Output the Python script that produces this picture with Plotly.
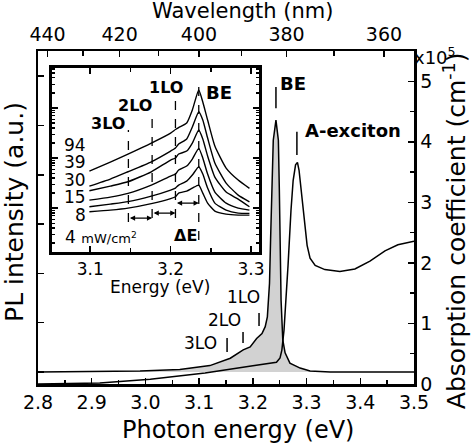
import numpy as np
import plotly.graph_objects as go

# ---------------- data ----------------
# main PL spectrum (left axis, a.u.)
pl_energy = [2.80, 2.953, 2.99, 3.064, 3.12, 3.158, 3.182, 3.195, 3.207, 3.217, 3.223, 3.227,
             3.231, 3.233, 3.235, 3.238, 3.243, 3.2475, 3.2493, 3.2506, 3.2525, 3.2557, 3.26,
             3.269, 3.288, 3.3065, 3.344, 3.50]
pl_intensity = [0.0, 0.01, 0.02, 0.05, 0.13, 0.28, 0.45, 0.51, 0.68, 0.78, 0.92, 1.12,
                1.80, 2.68, 3.69, 4.70, 5.11, 4.70, 3.69, 2.68, 1.46, 0.65, 0.39,
                0.18, 0.08, 0.02, 0.0, 0.0]

# absorption coefficient (right axis, x10^5 cm^-1)
abs_energy = [2.80, 2.915, 3.009, 3.111, 3.20, 3.244, 3.2506, 3.254, 3.258, 3.262, 3.2655,
              3.271, 3.275, 3.2795, 3.283, 3.286, 3.2898, 3.2953, 3.301, 3.3065, 3.316,
              3.334, 3.362, 3.39, 3.418, 3.446, 3.47, 3.50]
abs_coef = [0.0, 0.016, 0.08, 0.18, 0.30, 0.36, 0.43, 0.56, 0.89, 1.38, 1.96,
            2.87, 3.36, 3.62, 3.66, 3.53, 3.20, 2.70, 2.29, 2.08, 1.96,
            1.89, 1.86, 1.90, 2.03, 2.20, 2.30, 2.36]

# inset: PL spectra at various excitation densities (a.u.)
inset_energy = [3.099, 3.125, 3.147, 3.176, 3.200, 3.206, 3.210, 3.220, 3.227, 3.235,
                3.240, 3.246, 3.255, 3.269, 3.284, 3.298]
inset_p94 = [80, 89, 97, 108, 118, 121.5, 123.5, 128, 141, 161, 149, 131, 105, 83, 71, 62.7]
inset_p39 = [65, 72, 79.3, 89.3, 100, 103, 107, 112, 124, 139.3, 131, 113, 88, 68, 56, 49.3]
inset_p30 = [60.3, 65, 69.3, 79.3, 91, 93, 97, 100, 108, 121, 112, 95, 74, 59, 52, 44.3]
inset_p15 = [51, 54, 57.7, 66, 75, 77, 81, 85, 92, 102.7, 93, 77, 59, 48, 43, 41]
inset_p8 = [44.3, 47, 49.5, 55, 61, 63, 66, 70, 76, 84.3, 77, 63, 48, 41, 38, 37.7]
inset_p4 = [39.3, 41, 43, 47.5, 52.5, 54.3, 58, 60, 63, 66, 58, 48, 40, 37, 36, 36]
power_labels = ["94", "39", "30", "15", "8"]

# peak / phonon-replica positions (eV)
main_marks = {"BE": 3.243, "A-exciton": 3.282, "1LO": 3.2115, "2LO": 3.1817, "3LO": 3.152}
inset_lines = {"BE": 3.235, "1LO": 3.206, "2LO": 3.177, "3LO": 3.1475}

# wavelength axis
wl_major = [440, 420, 400, 380, 360]
wl_minor = [430, 410, 390, 370]

FONT = "DejaVu Sans"
BLK = "black"

fig = go.Figure()

# PL main (filled)
fig.add_trace(go.Scatter(x=pl_energy, y=pl_intensity, mode="lines", fill="tozeroy",
                         fillcolor="#d2d2d2", line=dict(color=BLK, width=1.5),
                         xaxis="x", yaxis="y", showlegend=False))
# absorption
fig.add_trace(go.Scatter(x=abs_energy, y=abs_coef, mode="lines",
                         line=dict(color=BLK, width=1.5),
                         xaxis="x", yaxis="y2", showlegend=False))
# dummy for top axis
fig.add_trace(go.Scatter(x=[2.8], y=[0], mode="markers", marker=dict(opacity=0),
                         xaxis="x2", yaxis="y", showlegend=False, hoverinfo="skip"))

# inset curves
for ys in [inset_p94, inset_p39, inset_p30, inset_p15, inset_p8, inset_p4]:
    fig.add_trace(go.Scatter(x=inset_energy, y=ys, mode="lines",
                             line=dict(color=BLK, width=1.4, shape="spline", smoothing=0.5),
                             xaxis="x3", yaxis="y3", showlegend=False))

# log-like tick positions for inset y axis (unlabelled)
dec_base = [-7, 43, 93, 143]
dec_px = 50
inset_major = [b for b in dec_base] + [193]
inset_minor = [b + dec_px * np.log10(k) for b in dec_base for k in range(2, 10)]
inset_minor = [float(v) for v in inset_minor if -1 <= v <= 183]
inset_major = [v for v in inset_major if -1 <= v <= 183]

line_w = 2.5
fig.update_layout(
    width=474, height=444,
    margin=dict(l=38, r=60, t=51, b=60),
    paper_bgcolor="white", plot_bgcolor="white",
    font=dict(family=FONT, color=BLK, size=18),
    hovermode=False,
    xaxis=dict(domain=[0, 1], range=[2.8, 3.5], anchor="y",
               tickmode="linear", tick0=2.8, dtick=0.1, tickformat=".1f",
               ticks="inside", ticklen=6, tickwidth=1.5, tickcolor=BLK,
               minor=dict(dtick=0.05, ticks="inside", ticklen=4, tickwidth=1.5, tickcolor=BLK, showgrid=False),
               showline=True, linewidth=line_w, linecolor=BLK, showgrid=False, zeroline=False,
               tickfont=dict(size=19)),
    xaxis2=dict(overlaying="x", side="top", range=[2.8, 3.5], anchor="y",
                tickmode="array", tickvals=[1239.84 / w for w in wl_major],
                ticktext=[str(w) for w in wl_major],
                ticks="inside", ticklen=6, tickwidth=1.5, tickcolor=BLK,
                minor=dict(tickmode="array", tickvals=[1239.84 / w for w in wl_minor],
                           ticks="inside", ticklen=5, tickwidth=1.5, tickcolor=BLK, showgrid=False),
                showline=True, linewidth=line_w, linecolor=BLK, showgrid=False, zeroline=False,
                tickfont=dict(size=19)),
    yaxis=dict(domain=[0, 1], range=[-0.243, 6.51], anchor="x",
               tickmode="linear", tick0=0, dtick=1, ticks="inside", ticklen=6, tickwidth=1.5,
               tickcolor=BLK, showticklabels=False,
               showline=True, linewidth=line_w, linecolor=BLK, showgrid=False, zeroline=False),
    yaxis2=dict(overlaying="y", side="right", range=[0, 5.5], anchor="x",
                tickmode="linear", tick0=0, dtick=1, ticks="inside", ticklen=6, tickwidth=1.5,
                tickcolor=BLK,
                minor=dict(dtick=0.5, ticks="inside", ticklen=4, tickwidth=1.5, tickcolor=BLK, showgrid=False),
                showline=True, linewidth=line_w, linecolor=BLK, showgrid=False, zeroline=False,
                tickfont=dict(size=19)),
    xaxis3=dict(domain=[0.0372, 0.588], range=[3.0525, 3.31], anchor="y3",
                tickmode="linear", tick0=3.1, dtick=0.1, tickformat=".1f",
                ticks="inside", ticklen=6, tickwidth=1.5, tickcolor=BLK,
                minor=dict(dtick=0.05, ticks="inside", ticklen=4, tickwidth=1.5, tickcolor=BLK, showgrid=False),
                showline=True, mirror="ticks", linewidth=line_w, linecolor=BLK,
                showgrid=False, zeroline=False, tickfont=dict(size=17)),
    yaxis3=dict(domain=[0.396, 0.949], range=[-1, 183], anchor="x3",
                tickmode="array", tickvals=inset_major, ticks="inside", ticklen=6, tickwidth=1.5,
                tickcolor=BLK, showticklabels=False,
                minor=dict(tickmode="array", tickvals=inset_minor, ticks="inside", ticklen=3,
                           tickwidth=1.2, tickcolor=BLK, showgrid=False),
                showline=True, mirror="ticks", linewidth=line_w, linecolor=BLK,
                showgrid=False, zeroline=False),
)

shapes = []
# main marker ticks (PL axis units)
tick_spans = {"BE": (5.35, 5.78), "A-exciton": (4.40, 4.87), "1LO": (0.933, 1.197),
              "2LO": (0.588, 0.811), "3LO": (0.406, 0.69)}
for k, (y0, y1) in tick_spans.items():
    e = main_marks[k]
    shapes.append(dict(type="line", xref="x", yref="y", x0=e, x1=e, y0=y0, y1=y1,
                       line=dict(color=BLK, width=1.5)))
# inset dashed lines
dash_spans = {"BE": (11, 166), "1LO": (33, 153), "2LO": (33, 134), "3LO": (29, 121)}
for k, (y0, y1) in dash_spans.items():
    e = inset_lines[k]
    shapes.append(dict(type="line", xref="x3", yref="y3", x0=e, x1=e, y0=y0, y1=y1,
                       line=dict(color=BLK, width=1.3, dash="dash")))
fig.update_layout(shapes=shapes)

ann = []
def A(text, x, y, xref="paper", yref="paper", size=18, xanchor="center", yanchor="middle", angle=0):
    ann.append(dict(text=text, x=x, y=y, xref=xref, yref=yref, showarrow=False,
                    font=dict(family=FONT, size=size, color=BLK), xanchor=xanchor,
                    yanchor=yanchor, textangle=angle))

# axis titles
A("Wavelength (nm)", 0.5426, 1.12, size=21)
A("Photon energy (eV)", 0.532, -0.138, size=24)
A("PL intensity (a.u.)", -0.064, 0.5165, size=25, angle=-90)
A("Absorption coefficient (cm<sup>-1</sup>)", 1.109, 0.462, size=25, angle=-90)
A("x10<sup>5</sup>", 1.056, 0.985, size=18)
A("Energy (eV)", 0.324, 0.291, size=17)

# main labels
A("<b>BE</b>", 3.2749, 5.86, "x", "y", size=18)
A("<b>A-exciton</b>", 3.2935, 4.89, "x", "y", size=18, xanchor="left")
A("1LO", 3.1817, 1.52, "x", "y", size=17)
A("2LO", 3.1464, 1.05, "x", "y", size=17)
A("3LO", 3.1017, 0.59, "x", "y", size=17)

# inset labels
A("<b>BE</b>", 3.26, 159, "x3", "y3", size=18)
A("<b>1LO</b>", 3.194, 164, "x3", "y3", size=16)
A("<b>2LO</b>", 3.156, 146, "x3", "y3", size=16)
A("<b>3LO</b>", 3.1225, 128, "x3", "y3", size=16)
A("<b>ΔE</b>", 3.219, 16, "x3", "y3", size=16)
for lab, yv in zip(power_labels, [106, 89, 71, 54, 36]):
    A(lab, 3.0975, yv, "x3", "y3", size=17, xanchor="right")
A("4 <span style='font-size:13px'>mW/cm<sup>2</sup></span>", 3.0665, 14, "x3", "y3", size=17,
  xanchor="left")

# ΔE arrows
for (e0, e1, yv) in [(inset_lines["3LO"], inset_lines["2LO"], 33),
                     (inset_lines["2LO"], inset_lines["1LO"], 38),
                     (inset_lines["1LO"], inset_lines["BE"], 48)]:
    ann.append(dict(x=e1, y=yv, ax=e0, ay=yv, xref="x3", yref="y3", axref="x3", ayref="y3",
                    text="", showarrow=True, arrowhead=2, arrowside="end+start",
                    arrowsize=0.8, arrowwidth=1.3, arrowcolor=BLK))

fig.update_layout(annotations=ann)
fig.write_html("out.html", config={"displayModeBar": False, "staticPlot": True},
               post_script="document.body.style.margin='0px';document.body.style.padding='0px';")
